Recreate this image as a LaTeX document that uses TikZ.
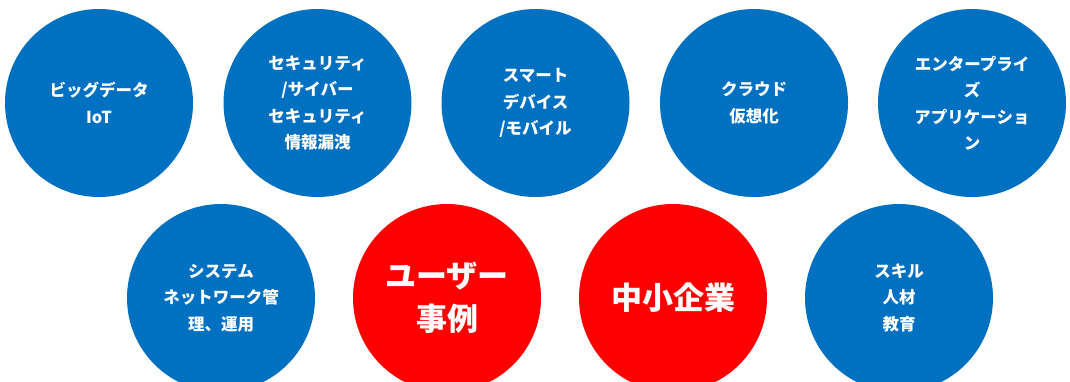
\documentclass[tikz,border=0pt]{standalone}
\usepackage{fontspec}
\newfontfamily\jpfont{Noto Sans CJK JP}
\definecolor{bblue}{HTML}{0070C0}
\definecolor{rred}{HTML}{FF0000}
\tikzset{
  bub/.style={circle, fill=bblue, minimum size=188pt, inner sep=0pt, text=white, align=center,
    font=\jpfont\bfseries\fontsize{16.5}{26.5}\selectfont},
  redbub/.style={bub, fill=rred, font=\jpfont\bfseries\fontsize{31}{43}\selectfont}
}
\begin{document}
\begin{tikzpicture}[x=1pt,y=-1pt]
\useasboundingbox (0,0) rectangle (1070,381);
\node[bub] (bigdata) at (99,103) {ビッグデータ\\IoT};
\node[bub] (security) at (317.5,103) {セキュリティ\\/サイバー\\セキュリティ\\情報漏洩};
\node[bub] (smart) at (535.5,103) {スマート\\デバイス\\/モバイル};
\node[bub] (cloud) at (754,103) {クラウド\\仮想化};
\node[bub] (enterprise) at (972,103) {エンタープライ\\ズ\\アプリケーショ\\ン};
\node[bub] (system) at (221,298) {システム\\ネットワーク管\\理、運用};
\node[redbub] (user) at (447,298) {ユーザー\\事例};
\node[redbub] (sme) at (673,298) {中小企業};
\node[bub] (skill) at (899,298) {スキル\\人材\\教育};
\end{tikzpicture}
\end{document}
